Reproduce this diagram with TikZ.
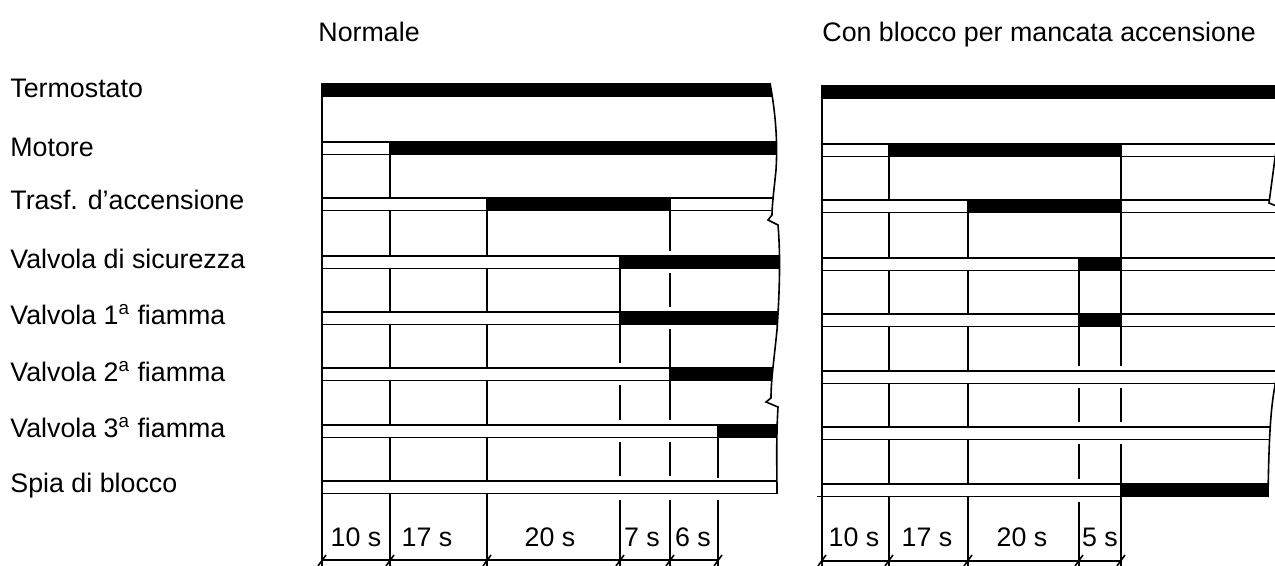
\documentclass[tikz,border=0pt]{standalone}
\usepackage{fontspec}
\setmainfont{Liberation Sans}
\begin{document}
\begin{tikzpicture}[x=0.5pt,y=-0.5pt,
  barline/.style={line width=0.9pt, line join=miter},
  gridline/.style={line width=0.9pt},
  breakline/.style={line width=0.8pt},
  lbl/.style={inner sep=0pt, font=\fontsize{13.4pt}{16pt}\selectfont},
  tick/.style={line width=0.8pt}]
\useasboundingbox (0,0) rectangle (1275,566);
\clip (0,0) rectangle (1275,566);

% on/off bars, 12.5 units high, top edge at #3
\newcommand\barOn[3]{\filldraw[barline] (#1,#3) rectangle (#2,{#3+12.5});}
\newcommand\barOff[3]{\draw[barline] (#1,#3) rectangle (#2,{#3+12.5});}
\newcommand\vseg[3]{\draw[gridline] (#1,#2) -- (#1,#3);}

% ---------- titles ----------
\node[lbl, anchor=base west] (tnorm) at (318,42) {Normale};
\node[lbl, anchor=base west] (tblock) at (822,42) {Con blocco per mancata accensione};

% ---------- row labels ----------
\node[lbl, anchor=base west] (l1) at (10,98) {Termostato};
\node[lbl, anchor=base west] (l2) at (10,157) {Motore};
\node[lbl, anchor=base west] (l3) at (10,210) {Trasf. d’accensione};
\node[lbl, anchor=base west] (l4) at (10,269) {Valvola di sicurezza};
\node[lbl, anchor=base west] (l5) at (10,325) {Valvola 1\textsuperscript{a} fiamma};
\node[lbl, anchor=base west] (l6) at (10,382) {Valvola 2\textsuperscript{a} fiamma};
\node[lbl, anchor=base west] (l7) at (10,438) {Valvola 3\textsuperscript{a} fiamma};
\node[lbl, anchor=base west] (l8) at (10,493) {Spia di blocco};

% ---------- normal sequence ----------
\def\breakL{(770,83) .. controls (775,110) and (778,140) .. (776,170)
  .. controls (774,190) and (772,205) .. (772,215) -- (768,220) -- (778,225)
  .. controls (781,260) and (779,300) .. (777,330)
  .. controls (774,360) and (771,380) .. (771,398) -- (766,402) -- (778,407)
  .. controls (776,440) and (777,470) .. (777,494)}
\begin{scope}
  \clip (310,70) -- \breakL -- (777,510) -- (310,510) -- cycle;
  \barOn{322}{795}{84}
  \barOff{322}{390}{142} \barOn{390}{795}{142}
  \barOff{322}{487}{198} \barOn{487}{670}{198} \barOff{670}{795}{198}
  \barOff{322}{620}{256} \barOn{620}{795}{256}
  \barOff{322}{620}{312} \barOn{620}{795}{312}
  \barOff{322}{670}{368} \barOn{670}{795}{368}
  \barOff{322}{718}{425} \barOn{718}{795}{425}
  \barOff{322}{795}{481}
\end{scope}
\draw[breakline] \breakL;

% time marks
\vseg{322}{84}{566}
\foreach \a/\b in {154.5/198,210.5/256,268.5/312,324.5/368,380.5/425,437.5/481,493.5/566} {\vseg{390}{\a}{\b}}
\foreach \a/\b in {210.5/256,268.5/312,324.5/368,380.5/425,437.5/481,493.5/566} {\vseg{487}{\a}{\b}}
\foreach \a/\b in {268.5/312,324.5/363,385.5/420,442.5/476,500/566} {\vseg{620}{\a}{\b}}
\foreach \a/\b in {210.5/251,273.5/307,329.5/368,380.5/420,442.5/476,500/566} {\vseg{670}{\a}{\b}}
\foreach \a/\b in {437.5/478,500/566} {\vseg{718}{\a}{\b}}

% dimension line
\coordinate (dL0) at (322,560);
\coordinate (dL1) at (718,560);
\draw[gridline] (dL0) -- (dL1);
\foreach \x in {322,390,487,620,670,718} {\draw[tick] (\x-4,566) -- (\x+4,555);}

\node[lbl, anchor=base] (n1) at (356,546) {10 s};
\node[lbl, anchor=base] (n2) at (427,546) {17 s};
\node[lbl, anchor=base] (n3) at (550,546) {20 s};
\node[lbl, anchor=base] (n4) at (642,546) {7 s};
\node[lbl, anchor=base] (n5) at (693,546) {6 s};

% ---------- lockout sequence ----------
\def\breakR{(1281,84) .. controls (1280,120) and (1278,140) .. (1275,158)
  -- (1269,203) -- (1286,210)
  .. controls (1289,280) and (1286,340) .. (1276,380)
  .. controls (1271,405) and (1269,430) .. (1268,497)}
\begin{scope}
  \clip (810,70) -- \breakR -- (1268,515) -- (810,515) -- cycle;
  \barOn{822}{1295}{86}
  \barOff{822}{889}{144} \barOn{889}{1121}{144} \barOff{1121}{1295}{144}
  \barOff{822}{968}{200} \barOn{968}{1121}{200} \barOff{1121}{1295}{200}
  \barOff{822}{1079}{258} \barOn{1079}{1121}{258} \barOff{1121}{1295}{258}
  \barOff{822}{1079}{314} \barOn{1079}{1121}{314} \barOff{1121}{1295}{314}
  \barOff{822}{1295}{371}
  \barOff{822}{1295}{427}
  \barOff{822}{1121}{484} \barOn{1121}{1295}{484}
\end{scope}
\draw[breakline] \breakR;

\vseg{822}{86}{566}
\draw[gridline] (817,496.5) -- (822,496.5);
\foreach \a/\b in {156.5/200,212.5/258,270.5/314,326.5/371,383.5/427,439.5/484,496.5/566} {\vseg{889}{\a}{\b}}
\foreach \a/\b in {212.5/258,270.5/314,326.5/371,383.5/427,439.5/484,496.5/566} {\vseg{968}{\a}{\b}}
\foreach \a/\b in {270.5/314,326.5/366,388.5/422,444.5/479,502/566} {\vseg{1079}{\a}{\b}}
\foreach \a/\b in {156.5/200,212.5/258,270.5/314,326.5/366,388.5/422,444.5/484,496.5/566} {\vseg{1121}{\a}{\b}}

\coordinate (dR0) at (822,561);
\coordinate (dR1) at (1121,561);
\draw[gridline] (dR0) -- (dR1);
\foreach \x in {822,889,968,1079,1121} {\draw[tick] (\x-4,566) -- (\x+4,555);}

\node[lbl, anchor=base] (m1) at (854,546) {10 s};
\node[lbl, anchor=base] (m2) at (927,546) {17 s};
\node[lbl, anchor=base] (m3) at (1022,546) {20 s};
\node[lbl, anchor=base] (m4) at (1100,546) {5 s};
\end{tikzpicture}
\end{document}
